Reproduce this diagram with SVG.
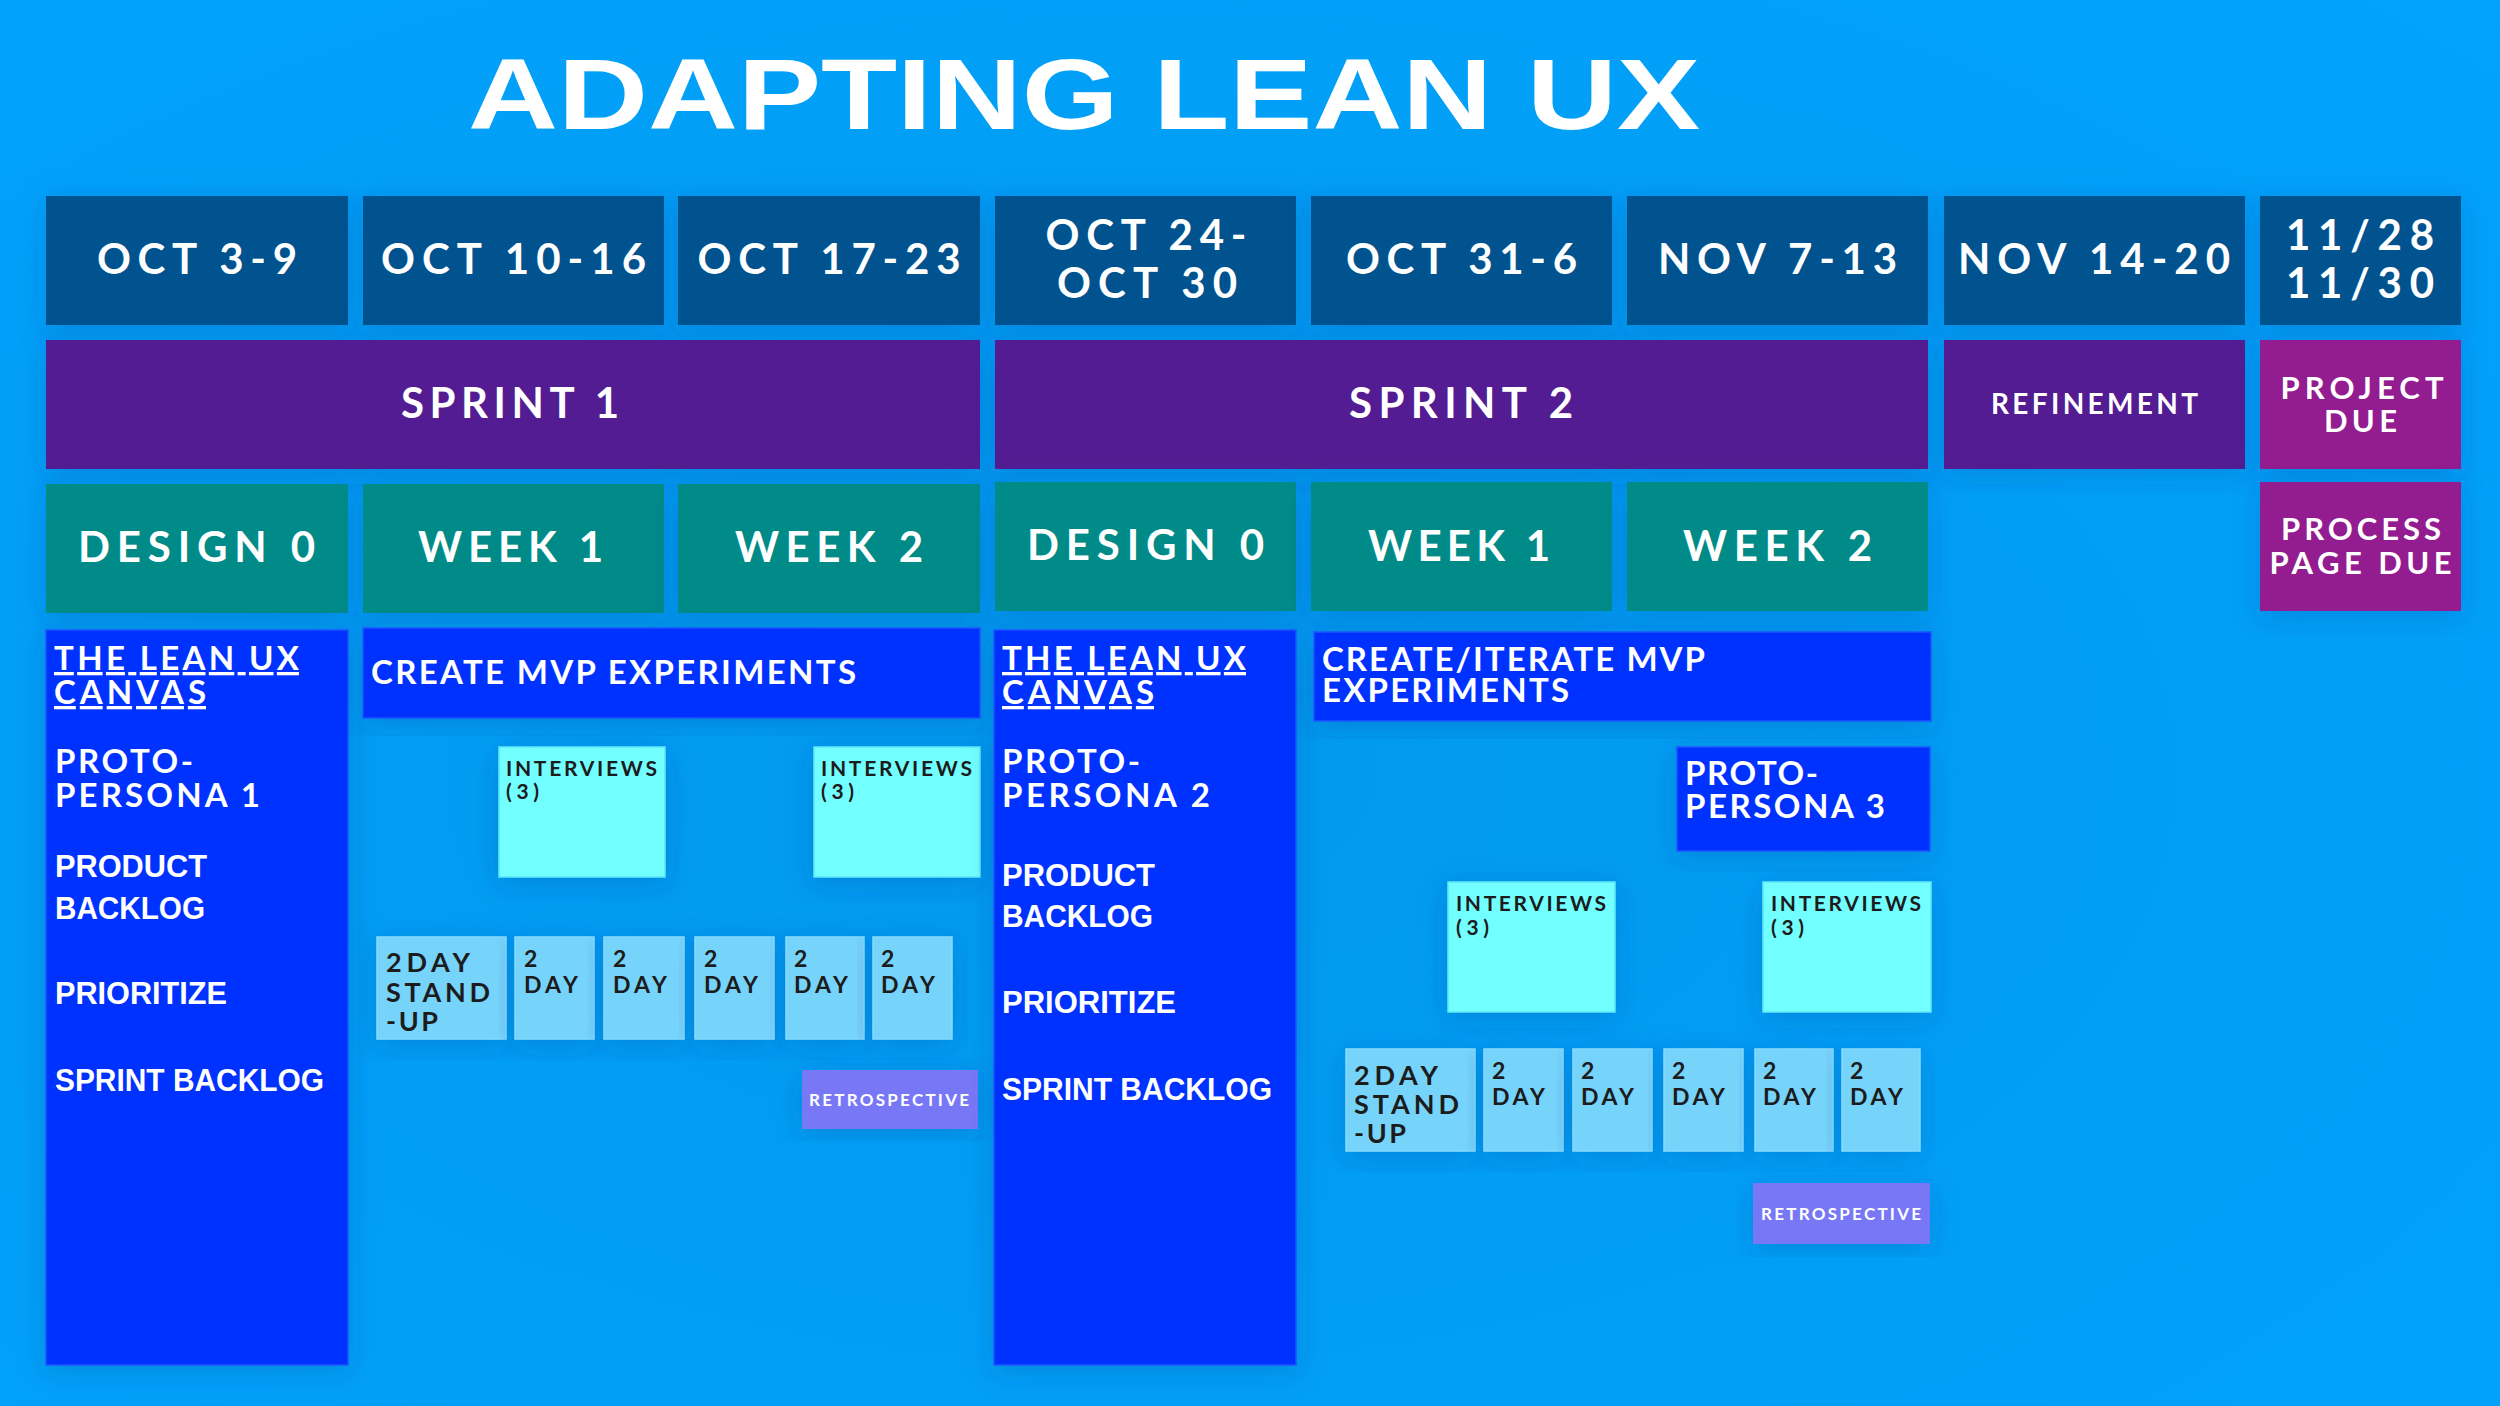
<svg xmlns="http://www.w3.org/2000/svg" width="2500" height="1406" viewBox="0 0 2500 1406">
<defs>
<radialGradient id="bg" cx="0.45" cy="0.55" r="0.8">
<stop offset="0" stop-color="#0199EE"/>
<stop offset="1" stop-color="#02A3FC"/>
</radialGradient>
<filter id="sh" x="-20%" y="-20%" width="140%" height="140%">
<feDropShadow dx="0" dy="6" stdDeviation="14" flood-color="#003a8c" flood-opacity="0.22"/>
</filter>
<style>
.date{fill:#03528F;filter:url(#sh)}
.sprint{fill:#521A92;filter:url(#sh)}
.due{fill:#931E90;filter:url(#sh)}
.wk{fill:#008B89;filter:url(#sh)}
.cv{fill:#0530FF;stroke:#1a55ff;stroke-width:1.5;filter:url(#sh)}
.iv{fill:#72FFFF;stroke:#5fe8f5;stroke-width:1.5;filter:url(#sh)}
.day{fill:#76D3FA;stroke:#86dcff;stroke-width:1.5;filter:url(#sh)}
.retro{fill:#7878F7;filter:url(#sh)}
text{font-family:Lato,'Liberation Sans','DejaVu Sans',sans-serif;font-weight:700}
.w{fill:#FFFFFF}
.k{fill:#1C1C1C}
.c{text-anchor:middle}
.f42{font-size:42px}
.f33{font-size:33px}
.f31{font-size:31px}
.f28{font-size:28px}
.f27{font-size:27px}
.f23{font-size:23px}
.f21{font-size:21px}
.f17{font-size:17px}
.nar{font-family:'Liberation Sans',Arial,sans-serif;font-size:32px;font-weight:700}
.ttl{font-family:'Liberation Sans',Arial,sans-serif;font-size:100px;font-weight:700;fill:#FFFFFF}
</style>
</defs>
<rect x="0" y="0" width="2500" height="1406" fill="url(#bg)"/>

<g id="title"><text class="ttl" x="468" y="129" textLength="1232" lengthAdjust="spacingAndGlyphs">ADAPTING LEAN UX</text></g>

<g id="date-oct3"><rect class="date" x="46" y="196" width="302" height="129"/><text class="w c f42" x="197" y="274" textLength="200" lengthAdjust="spacing">OCT 3-9</text></g>
<g id="date-oct10"><rect class="date" x="363" y="196" width="301" height="129"/><text class="w c f42" x="513.5" y="274" textLength="265" lengthAdjust="spacing">OCT 10-16</text></g>
<g id="date-oct17"><rect class="date" x="678" y="196" width="302" height="129"/><text class="w c f42" x="829" y="274" textLength="263" lengthAdjust="spacing">OCT 17-23</text></g>
<g id="date-oct24"><rect class="date" x="995" y="196" width="301" height="129"/><text class="w c f42"><tspan x="1146" y="250" textLength="201" lengthAdjust="spacing">OCT 24-</tspan><tspan x="1147" y="298" textLength="180" lengthAdjust="spacing">OCT 30</tspan></text></g>
<g id="date-oct31"><rect class="date" x="1311" y="196" width="301" height="129"/><text class="w c f42" x="1461.5" y="274" textLength="231" lengthAdjust="spacing">OCT 31-6</text></g>
<g id="date-nov7"><rect class="date" x="1627" y="196" width="301" height="129"/><text class="w c f42" x="1777.5" y="274" textLength="239" lengthAdjust="spacing">NOV 7-13</text></g>
<g id="date-nov14"><rect class="date" x="1944" y="196" width="301" height="129"/><text class="w c f42" x="2094" y="274" textLength="272" lengthAdjust="spacing">NOV 14-20</text></g>
<g id="date-nov28"><rect class="date" x="2260" y="196" width="201" height="129"/><text class="w c f42"><tspan x="2360" y="250" textLength="148" lengthAdjust="spacing">11/28</tspan><tspan x="2360" y="298" textLength="148" lengthAdjust="spacing">11/30</tspan></text></g>

<g id="sprint1"><rect class="sprint" x="46" y="340" width="934" height="129"/><text class="w c f42" x="510" y="418" textLength="218" lengthAdjust="spacing">SPRINT 1</text></g>
<g id="sprint2"><rect class="sprint" x="995" y="340" width="933" height="129"/><text class="w c f42" x="1461" y="418" textLength="224" lengthAdjust="spacing">SPRINT 2</text></g>
<g id="refinement"><rect class="sprint" x="1944" y="340" width="301" height="129"/><text class="w c f28" x="2094.5" y="414" textLength="207" lengthAdjust="spacing">REFINEMENT</text></g>
<g id="project-due"><rect class="due" x="2260" y="340" width="201" height="129"/><text class="w c f31"><tspan x="2362" y="399" textLength="163" lengthAdjust="spacing">PROJECT</tspan><tspan x="2360.5" y="432" textLength="73" lengthAdjust="spacing">DUE</tspan></text></g>
<g id="process-due"><rect class="due" x="2260" y="482" width="201" height="129"/><text class="w c f31"><tspan x="2361" y="540" textLength="160" lengthAdjust="spacing">PROCESS</tspan><tspan x="2360.5" y="574" textLength="182" lengthAdjust="spacing">PAGE DUE</tspan></text></g>

<g id="s1-design0"><rect class="wk" x="46" y="484" width="302" height="129"/><text class="w c f42" x="196.5" y="562" textLength="237" lengthAdjust="spacing">DESIGN 0</text></g>
<g id="s1-week1"><rect class="wk" x="363" y="484" width="301" height="129"/><text class="w c f42" x="510.5" y="562" textLength="185" lengthAdjust="spacing">WEEK 1</text></g>
<g id="s1-week2"><rect class="wk" x="678" y="484" width="302" height="129"/><text class="w c f42" x="829" y="562" textLength="188" lengthAdjust="spacing">WEEK 2</text></g>
<g id="s2-design0"><rect class="wk" x="995" y="482" width="301" height="129"/><text class="w c f42" x="1145.5" y="560" textLength="237" lengthAdjust="spacing">DESIGN 0</text></g>
<g id="s2-week1"><rect class="wk" x="1311" y="482" width="301" height="129"/><text class="w c f42" x="1459" y="561" textLength="182" lengthAdjust="spacing">WEEK 1</text></g>
<g id="s2-week2"><rect class="wk" x="1627" y="482" width="301" height="129"/><text class="w c f42" x="1777.5" y="561" textLength="189" lengthAdjust="spacing">WEEK 2</text></g>

<g id="s1-canvas"><rect class="cv" x="46" y="630" width="302" height="735"/>
<text class="w f33" text-decoration="underline"><tspan x="54" y="670" textLength="245" lengthAdjust="spacing">THE LEAN UX</tspan><tspan x="54" y="704" textLength="152" lengthAdjust="spacing">CANVAS</tspan></text>
<text class="w f33"><tspan x="55" y="773" textLength="138" lengthAdjust="spacing">PROTO-</tspan><tspan x="55" y="807" textLength="205" lengthAdjust="spacing">PERSONA 1</tspan></text>
<text class="w nar"><tspan x="55" y="877" textLength="152" lengthAdjust="spacingAndGlyphs">PRODUCT</tspan><tspan x="55" y="919" textLength="150" lengthAdjust="spacingAndGlyphs">BACKLOG</tspan></text>
<text class="w nar" x="55" y="1004" textLength="172" lengthAdjust="spacingAndGlyphs">PRIORITIZE</text>
<text class="w nar" x="55" y="1091" textLength="269" lengthAdjust="spacingAndGlyphs">SPRINT BACKLOG</text>
</g>
<g id="s1-create-mvp"><rect class="cv" x="363" y="628" width="617" height="90"/><text class="w f33" x="371" y="684" textLength="485" lengthAdjust="spacing">CREATE MVP EXPERIMENTS</text></g>
<g id="s1-interviews-a"><rect class="iv" x="499" y="747" width="166" height="130"/><text class="k f21"><tspan x="506" y="776" textLength="151" lengthAdjust="spacing">INTERVIEWS</tspan><tspan x="506" y="799" textLength="33" lengthAdjust="spacing">(3)</tspan></text></g>
<g id="s1-interviews-b"><rect class="iv" x="814" y="747" width="166" height="130"/><text class="k f21"><tspan x="821" y="776" textLength="151" lengthAdjust="spacing">INTERVIEWS</tspan><tspan x="821" y="799" textLength="33" lengthAdjust="spacing">(3)</tspan></text></g>
<g id="s1-standup"><rect class="day" x="377" y="937" width="129" height="102"/><text class="k f27"><tspan x="386" y="972" textLength="84" lengthAdjust="spacing">2DAY</tspan><tspan x="386" y="1002" textLength="104" lengthAdjust="spacing">STAND</tspan><tspan x="386" y="1031" textLength="52" lengthAdjust="spacing">-UP</tspan></text></g>
<g id="s1-day1"><rect class="day" x="515" y="937" width="79" height="102"/><text class="k f23"><tspan x="524" y="967">2</tspan><tspan x="524" y="993" textLength="54" lengthAdjust="spacing">DAY</tspan></text></g>
<g id="s1-day2"><rect class="day" x="604" y="937" width="80" height="102"/><text class="k f23"><tspan x="613" y="967">2</tspan><tspan x="613" y="993" textLength="54" lengthAdjust="spacing">DAY</tspan></text></g>
<g id="s1-day3"><rect class="day" x="695" y="937" width="79" height="102"/><text class="k f23"><tspan x="704" y="967">2</tspan><tspan x="704" y="993" textLength="54" lengthAdjust="spacing">DAY</tspan></text></g>
<g id="s1-day4"><rect class="day" x="786" y="937" width="78" height="102"/><text class="k f23"><tspan x="794" y="967">2</tspan><tspan x="794" y="993" textLength="54" lengthAdjust="spacing">DAY</tspan></text></g>
<g id="s1-day5"><rect class="day" x="873" y="937" width="79" height="102"/><text class="k f23"><tspan x="881" y="967">2</tspan><tspan x="881" y="993" textLength="54" lengthAdjust="spacing">DAY</tspan></text></g>
<g id="s1-retro"><rect class="retro" x="802" y="1070" width="176" height="59"/><text class="w c f17" x="889" y="1106" textLength="160" lengthAdjust="spacing">RETROSPECTIVE</text></g>

<g id="s2-canvas"><rect class="cv" x="994" y="630" width="302" height="735"/>
<text class="w f33" text-decoration="underline"><tspan x="1002" y="670" textLength="244" lengthAdjust="spacing">THE LEAN UX</tspan><tspan x="1002" y="704" textLength="152" lengthAdjust="spacing">CANVAS</tspan></text>
<text class="w f33"><tspan x="1002" y="773" textLength="138" lengthAdjust="spacing">PROTO-</tspan><tspan x="1002" y="807" textLength="208" lengthAdjust="spacing">PERSONA 2</tspan></text>
<text class="w nar"><tspan x="1002" y="886" textLength="153" lengthAdjust="spacingAndGlyphs">PRODUCT</tspan><tspan x="1002" y="927" textLength="151" lengthAdjust="spacingAndGlyphs">BACKLOG</tspan></text>
<text class="w nar" x="1002" y="1013" textLength="174" lengthAdjust="spacingAndGlyphs">PRIORITIZE</text>
<text class="w nar" x="1002" y="1100" textLength="270" lengthAdjust="spacingAndGlyphs">SPRINT BACKLOG</text>
</g>
<g id="s2-create-mvp"><rect class="cv" x="1314" y="632" width="617" height="89"/><text class="w f33"><tspan x="1322" y="671" textLength="383" lengthAdjust="spacing">CREATE/ITERATE MVP</tspan><tspan x="1322" y="702" textLength="247" lengthAdjust="spacing">EXPERIMENTS</tspan></text></g>
<g id="s2-persona3"><rect class="cv" x="1677" y="747" width="253" height="104"/><text class="w f33"><tspan x="1685" y="785" textLength="133" lengthAdjust="spacing">PROTO-</tspan><tspan x="1685" y="818" textLength="200" lengthAdjust="spacing">PERSONA 3</tspan></text></g>
<g id="s2-interviews-a"><rect class="iv" x="1448" y="882" width="167" height="130"/><text class="k f21"><tspan x="1456" y="911" textLength="150" lengthAdjust="spacing">INTERVIEWS</tspan><tspan x="1456" y="935" textLength="33" lengthAdjust="spacing">(3)</tspan></text></g>
<g id="s2-interviews-b"><rect class="iv" x="1763" y="882" width="168" height="130"/><text class="k f21"><tspan x="1771" y="911" textLength="150" lengthAdjust="spacing">INTERVIEWS</tspan><tspan x="1771" y="935" textLength="33" lengthAdjust="spacing">(3)</tspan></text></g>
<g id="s2-standup"><rect class="day" x="1346" y="1049" width="129" height="102"/><text class="k f27"><tspan x="1354" y="1085" textLength="84" lengthAdjust="spacing">2DAY</tspan><tspan x="1354" y="1114" textLength="105" lengthAdjust="spacing">STAND</tspan><tspan x="1354" y="1143" textLength="52" lengthAdjust="spacing">-UP</tspan></text></g>
<g id="s2-day1"><rect class="day" x="1484" y="1049" width="79" height="102"/><text class="k f23"><tspan x="1492" y="1079">2</tspan><tspan x="1492" y="1105" textLength="53" lengthAdjust="spacing">DAY</tspan></text></g>
<g id="s2-day2"><rect class="day" x="1573" y="1049" width="79" height="102"/><text class="k f23"><tspan x="1581" y="1079">2</tspan><tspan x="1581" y="1105" textLength="53" lengthAdjust="spacing">DAY</tspan></text></g>
<g id="s2-day3"><rect class="day" x="1664" y="1049" width="79" height="102"/><text class="k f23"><tspan x="1672" y="1079">2</tspan><tspan x="1672" y="1105" textLength="53" lengthAdjust="spacing">DAY</tspan></text></g>
<g id="s2-day4"><rect class="day" x="1755" y="1049" width="78" height="102"/><text class="k f23"><tspan x="1763" y="1079">2</tspan><tspan x="1763" y="1105" textLength="53" lengthAdjust="spacing">DAY</tspan></text></g>
<g id="s2-day5"><rect class="day" x="1842" y="1049" width="78" height="102"/><text class="k f23"><tspan x="1850" y="1079">2</tspan><tspan x="1850" y="1105" textLength="53" lengthAdjust="spacing">DAY</tspan></text></g>
<g id="s2-retro"><rect class="retro" x="1753" y="1183" width="177" height="61"/><text class="w c f17" x="1841" y="1220" textLength="160" lengthAdjust="spacing">RETROSPECTIVE</text></g>

<g id="connectors"></g>
</svg>
